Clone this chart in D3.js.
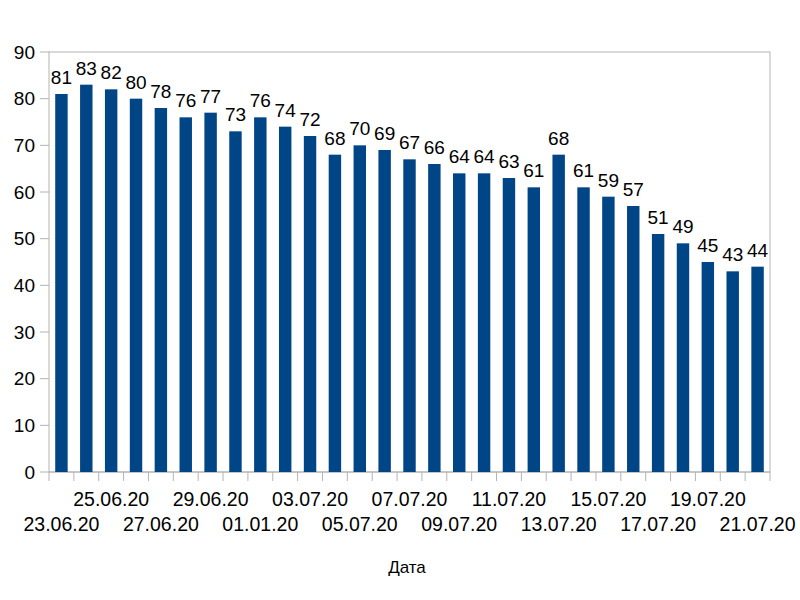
<!DOCTYPE html>
<html>
<head>
<meta charset="utf-8">
<script src="https://cdn.jsdelivr.net/npm/d3@7"></script>
<style>
  body { margin: 0; background: #fff; }
  text { font-family: "Liberation Sans", Arial, sans-serif; fill: #000; }
</style>
</head>
<body>
<div id="chart"></div>
<script>
// dates (one of them really is "01.01.20" on the source chart)
const dates = ["23.06.20","24.06.20","25.06.20","26.06.20","27.06.20","28.06.20","29.06.20",
  "30.06.20","01.01.20","02.07.20","03.07.20","04.07.20","05.07.20","06.07.20","07.07.20",
  "08.07.20","09.07.20","10.07.20","11.07.20","12.07.20","13.07.20","14.07.20","15.07.20",
  "16.07.20","17.07.20","18.07.20","19.07.20","20.07.20","21.07.20"];
const values = [81,83,82,80,78,76,77,73,76,74,72,68,70,69,67,66,64,64,63,61,68,61,59,57,51,49,45,43,44];
const yTicks = [0,10,20,30,40,50,60,70,80,90];
const axisTitle = "Дата";

const width = 800, height = 600;
const margin = {top: 52, right: 30, bottom: 128, left: 49};
const w = width - margin.left - margin.right;
const h = height - margin.top - margin.bottom;

const svg = d3.select("#chart").append("svg")
  .attr("width", width).attr("height", height);
const g = svg.append("g").attr("transform", `translate(${margin.left},${margin.top})`);

const x = d3.scaleBand().domain(d3.range(values.length)).range([0, w]).paddingInner(0.5).paddingOuter(0.25);
const y = d3.scaleLinear().domain([0, 90]).range([h, 0]);

// plot border
g.append("rect")
  .attr("x", 0).attr("y", 0).attr("width", w).attr("height", h)
  .attr("fill", "none").attr("stroke", "#b3b3b3").attr("stroke-width", 1);

// y axis
yTicks.forEach(t => {
  g.append("line").attr("x1", -9).attr("x2", 0).attr("y1", y(t)).attr("y2", y(t))
    .attr("stroke", "#b3b3b3");
  g.append("text").attr("x", -14).attr("y", y(t)).attr("dy", "0.35em")
    .attr("text-anchor", "end").style("font-size", "19px").text(t);
});

// x ticks at category boundaries
const step = w / values.length;
d3.range(values.length + 1).forEach(i => {
  g.append("line").attr("x1", i * step).attr("x2", i * step).attr("y1", h).attr("y2", h + 9)
    .attr("stroke", "#b3b3b3");
});
g.append("line").attr("x1", 0).attr("x2", w).attr("y1", h).attr("y2", h).attr("stroke", "#b3b3b3");

// bars
g.selectAll("rect.bar").data(values).enter().append("rect")
  .attr("class", "bar")
  .attr("x", (d, i) => x(i))
  .attr("y", d => y(d))
  .attr("width", x.bandwidth())
  .attr("height", d => h - y(d))
  .attr("fill", "#004586");

// value labels
g.selectAll("text.val").data(values).enter().append("text")
  .attr("class", "val")
  .attr("x", (d, i) => x(i) + x.bandwidth() / 2)
  .attr("y", d => y(d) - 10)
  .attr("text-anchor", "middle").style("font-size", "19px")
  .text(d => d);

// date labels, every second one, staggered in two rows
dates.forEach((d, i) => {
  if (i % 2 !== 0) return;
  const upper = (i / 2) % 2 === 1;
  g.append("text")
    .attr("x", x(i) + x.bandwidth() / 2)
    .attr("y", h + (upper ? 27 : 52)).attr("dy", "0.35em")
    .attr("text-anchor", "middle").style("font-size", "19.5px")
    .text(d);
});

svg.append("text").attr("x", 407).attr("y", 567).attr("dy", "0.35em")
  .attr("text-anchor", "middle").style("font-size", "17px").text(axisTitle);
</script>
</body>
</html>
